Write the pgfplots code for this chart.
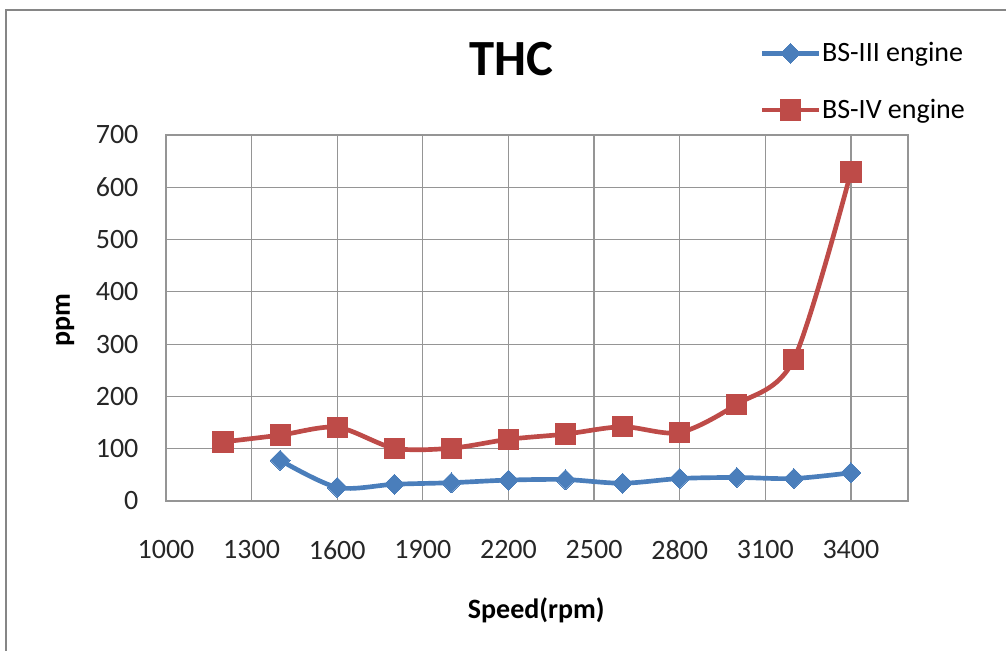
\documentclass[border=0pt]{standalone}
\usepackage{fontspec}
\setmainfont{Carlito}
\usepackage{pgfplots}
\pgfplotsset{compat=1.18}
\definecolor{bsthree}{HTML}{4A7EBB}
\definecolor{bsfour}{HTML}{BE4B48}
\definecolor{gridgray}{HTML}{959595}
\definecolor{framegray}{HTML}{868686}
\begin{document}
\begin{tikzpicture}
\path[use as bounding box] (0pt,0pt) rectangle (754.5pt,487.5pt);
\draw[framegray, line width=1.5pt] (4.5pt,-2pt) -- (4.5pt,480pt) -- (757pt,480pt);
\begin{axis}[
  at={(124.5pt,111.75pt)}, anchor=south west,
  scale only axis, width=556.5pt, height=274.5pt,
  xmin=1000, xmax=3600, ymin=0, ymax=700,
  xtick={1000,1300,...,3400}, ytick={0,100,...,700},
  grid=major,
  major grid style={gridgray, line width=0.9pt},
  axis line style={gridgray, line width=0.9pt},
  major tick length=0pt,
  /pgf/number format/assume math mode=true,
  /pgf/number format/set thousands separator={},
  tick label style={font=\fontsize{21}{25}\selectfont, text=black!85},
  xticklabel style={anchor=center, yshift=-36.75pt},
  yticklabel style={anchor=east, inner sep=0pt, xshift=-20.5pt},
  title={\textbf{THC}},
  title style={at={(axis description cs:0.466,1.187)}, anchor=center, font=\fontsize{38}{44}\selectfont},
  xlabel={\textbf{Speed(rpm)}},
  xlabel style={at={(axis description cs:0.499,-0.298)}, anchor=center, font=\fontsize{21}{25}\selectfont},
  ylabel={\textbf{ppm}},
  ylabel style={at={(axis description cs:-0.136,0.495)}, anchor=center, rotate=0, font=\fontsize{21}{25}\selectfont},
  legend style={at={(axis description cs:0.795,1.264)}, anchor=north west, draw=none, fill=none,
    font=\fontsize{21}{25}\selectfont, row sep=24.5pt,
    nodes={inner sep=1pt}},
  legend cell align=left,
  legend image code/.code={\draw[mark repeat=2,mark phase=2] plot coordinates {(0pt,0pt)(21pt,0pt)(42pt,0pt)};},
  clip=false,
]
\addplot[bsthree, line width=3.5pt, smooth, tension=0.5, mark=square*, mark size=5.3pt,
  mark options={rotate=45, solid, line width=0pt, fill=bsthree}]
  coordinates {(1400,78)(1600,26)(1800,32)(2000,35)(2200,40)(2400,41)(2600,34)(2800,43)(3000,45)(3200,43)(3400,54)};
\addlegendentry{BS-III engine}
\addplot[bsfour, line width=3.5pt, smooth, tension=0.5, mark=square*, mark size=7.6pt,
  mark options={solid, line width=0pt, fill=bsfour}]
  coordinates {(1200,113)(1400,126)(1600,141)(1800,101)(2000,101)(2200,118)(2400,128)(2600,142)(2800,131)(3000,185)(3200,271)(3400,629)};
\addlegendentry{BS-IV engine}
\end{axis}
\end{tikzpicture}
\end{document}
